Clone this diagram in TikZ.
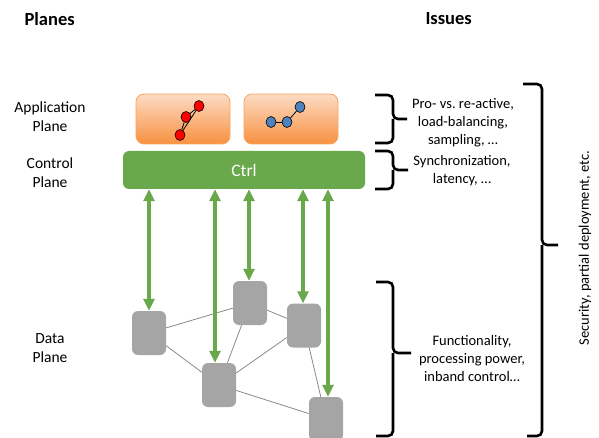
\documentclass[tikz,border=0pt]{standalone}
\usepackage{fontspec}
\setmainfont{Carlito}
\usetikzlibrary{arrows.meta,shapes.geometric}
\frenchspacing
\definecolor{ctrlgreen}{HTML}{6AA84C}
\definecolor{orangeb}{HTML}{F7A560}
\definecolor{orangetop}{HTML}{FDDCC4}
\definecolor{orangebot}{HTML}{F79140}
\definecolor{nodegray}{HTML}{A5A5A5}
\definecolor{linkgray}{HTML}{8A8A8A}
\definecolor{redc}{HTML}{FF0000}
\definecolor{bluec}{HTML}{4F81BD}
\tikzset{
  lbl/.style={font=\fontsize{15.5}{19}\selectfont, align=center},
  iss/.style={font=\fontsize{14.5}{18}\selectfont, align=center},
  head/.style={font=\fontsize{18.5}{22}\selectfont\bfseries},
  appbox/.style={draw=orangeb, line width=0.8pt, rounded corners=8pt, top color=orangetop, bottom color=orangebot, minimum width=94pt, minimum height=50pt, inner sep=0pt},
  ctrlbox/.style={fill=ctrlgreen, rounded corners=6pt, minimum width=242pt, minimum height=38pt, inner sep=0pt, text=white, font=\fontsize{17.5}{20}\selectfont},
  sw/.style={fill=nodegray, rounded corners=6pt, minimum width=34pt, minimum height=44pt, inner sep=0pt},
  link/.style={draw=linkgray, line width=0.8pt},
  ctl/.style={draw=ctrlgreen, line width=3.5pt, {Triangle[width=11pt,length=12pt]}-{Triangle[width=11pt,length=12pt]}},
  rdot/.style={ellipse, draw=black, line width=0.6pt, fill=redc, minimum width=10pt, minimum height=11pt, inner sep=0pt},
  bdot/.style={ellipse, draw=black, line width=0.6pt, fill=bluec, minimum width=10pt, minimum height=11pt, inner sep=0pt},
  dotline/.style={draw=black, line width=0.8pt},
  brace/.style={draw=black, line width=2.6pt, rounded corners=5pt},
}
\begin{document}
\begin{tikzpicture}[x=1pt,y=-1pt]
\useasboundingbox (0,0) rectangle (599,438);
% headers
\node[head, anchor=west] (planes) at (21,19) {Planes};
\node[head, anchor=west] (issues) at (422,19) {Issues};
% left labels
\node[lbl] (applbl) at (50,117) {Application\\Plane};
\node[lbl] (ctrllbl) at (50,173) {Control\\Plane};
\node[lbl] (datalbl) at (50,348) {Data\\Plane};
% application boxes
\node[appbox] (app1) at (183,119) {};
\node[appbox] (app2) at (291,119) {};
\node[rdot] (r1) at (199,106) {};
\node[rdot] (r2) at (186,117) {};
\node[rdot] (r3) at (180,135) {};
\draw[dotline] (r1) -- (r2);
\draw[dotline] (r2) -- (r3);
\draw[dotline] (r3) -- (r1);
\node[bdot] (b1) at (271,122) {};
\node[bdot] (b2) at (287,122) {};
\node[bdot] (b3) at (300,107) {};
\draw[dotline] (b1) -- (b2);
\draw[dotline] (b2) -- (b3);
% controller
\node[ctrlbox] (ctrl) at (244,170) {Ctrl};
% switches
\node[sw] (A) at (149,333) {};
\node[sw] (B) at (250,303) {};
\node[sw] (C) at (304,325.5) {};
\node[sw] (D) at (219,385) {};
\node[sw] (E) at (326,419) {};
% links
\draw[link] (A) -- (B);
\draw[link] (A) -- (D);
\draw[link] (B) -- (D);
\draw[link] (B) -- (C);
\draw[link] (C) -- (D);
\draw[link] (C) -- (E);
\draw[link] (D) -- (E);
% control channel ends
\coordinate (pa) at (A.north);
\coordinate (pd) at ([xshift=-4pt]D.north);
\coordinate (pb) at ([xshift=-1pt]B.north);
\coordinate (pc) at ([xshift=-1pt]C.north);
\coordinate (pe) at ([xshift=2pt]E.north);
\draw[ctl] (ctrl.south -| pa) -- (pa);
\draw[ctl] (ctrl.south -| pd) -- (pd);
\draw[ctl] (ctrl.south -| pb) -- (pb);
\draw[ctl] (ctrl.south -| pc) -- (pc);
\draw[ctl] (ctrl.south -| pe) -- (pe);
% braces
\coordinate (br1t) at (375,95);  \coordinate (br1m) at (393,119); \coordinate (br1tip) at (407,119); \coordinate (br1b) at (375,143);
\draw[brace] (br1t) -| (br1m) -- (br1tip);
\draw[brace] (br1b) -| (br1m);
\coordinate (br2t) at (375,151); \coordinate (br2m) at (393,170); \coordinate (br2tip) at (408,170); \coordinate (br2b) at (375,189);
\draw[brace] (br2t) -| (br2m) -- (br2tip);
\draw[brace] (br2b) -| (br2m);
\coordinate (br3t) at (376,282); \coordinate (br3m) at (393,353); \coordinate (br3tip) at (411,353); \coordinate (br3b) at (376,436);
\draw[brace] (br3t) -| (br3m) -- (br3tip);
\draw[brace] (br3b) -| (br3m);
\coordinate (br4t) at (523,84); \coordinate (br4m) at (542,245); \coordinate (br4tip) at (558,245); \coordinate (br4b) at (527,436);
\draw[brace] (br4t) -| (br4m) -- (br4tip);
\draw[brace] (br4b) -| (br4m);
% issue texts
\node[iss] (iss1) at (463,123) {Pro- vs. re-active,\\load-balancing,\\sampling, …};
\node[iss] (iss2) at (462,171) {Synchronization,\\latency, …};
\node[iss] (iss3) at (472,359) {Functionality,\\processing power,\\inband control…};
\node[iss, rotate=90] (iss4) at (585,248) {Security, partial deployment, etc.};
\end{tikzpicture}
\end{document}
